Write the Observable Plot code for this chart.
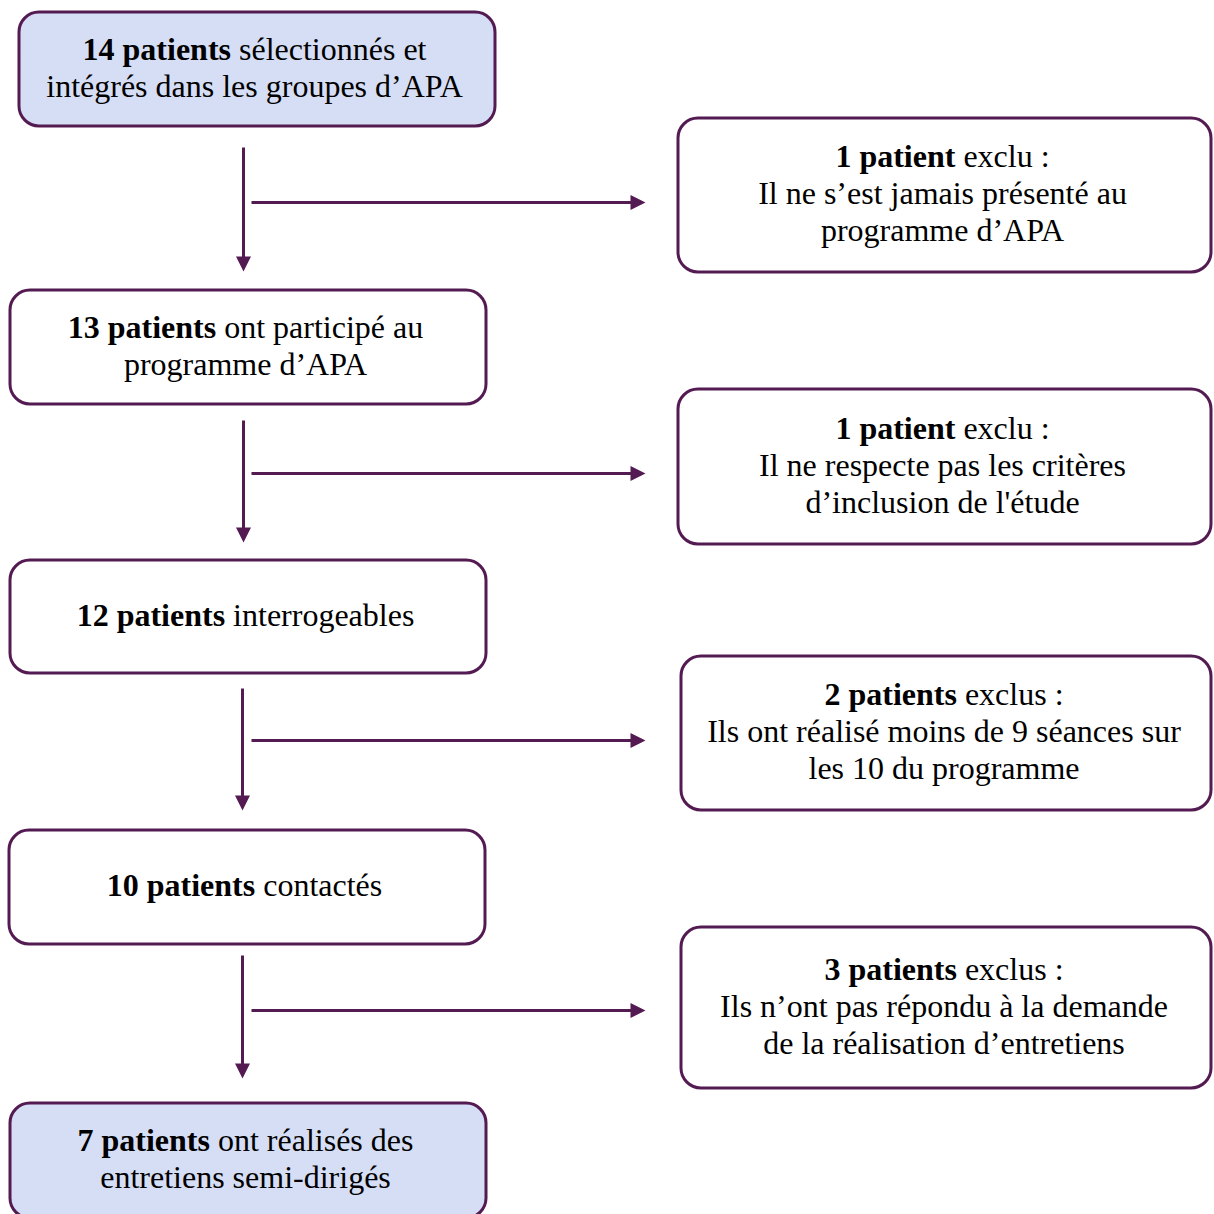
<!DOCTYPE html>
<html>
<head>
<meta charset="utf-8">
<script src="https://cdn.jsdelivr.net/npm/d3@7"></script>
<script src="https://cdn.jsdelivr.net/npm/@observablehq/plot@0.6"></script>
<style>
  html, body { margin: 0; padding: 0; background: #ffffff; }
  #chart svg { display: block; }
</style>
</head>
<body>
<div id="chart"></div>
<script>
// ---------- Data ----------
const mainBold = ["14 patients", "13 patients", "12 patients", "10 patients", "7 patients"];
const mainRest = ["sélectionnés et", "ont participé au", "interrogeables", "contactés", "ont réalisés des"];
const mainMore = [
  ["intégrés dans les groupes d’APA"],
  ["programme d’APA"],
  [],
  [],
  ["entretiens semi-dirigés"]
];
const mainHighlight = [true, false, false, false, true];

const exclBold = ["1 patient", "1 patient", "2 patients", "3 patients"];
const exclRest = ["exclu :", "exclu :", "exclus :", "exclus :"];
const exclMore = [
  ["Il ne s’est jamais présenté au", "programme d’APA"],
  ["Il ne respecte pas les critères", "d’inclusion de l'étude"],
  ["Ils ont réalisé moins de 9 séances sur", "les 10 du programme"],
  ["Ils n’ont pas répondu à la demande", "de la réalisation d’entretiens"]
];

// ---------- Layout (pixel space of the diagram) ----------
const SIZE = 1214;
const mainBoxes = [[19, 495, 12, 126], [10, 486, 290, 404], [10, 486, 560, 673], [9, 485, 830, 944], [10, 486, 1103, 1218]];
const exclBoxes = [[678, 1211, 118, 272], [678, 1211, 389, 544], [681, 1211, 656, 810], [681, 1211, 927, 1088]];
const downArrows = [[243, 147, 271], [243, 420, 542], [242, 688, 810], [242, 955, 1078]];
const rightArrows = [[202, 251, 645], [473, 251, 645], [740, 251, 645], [1010, 251, 645]];

const PURPLE = "#541a52";
const BLUE = "#d6def5";
const FONT = "Liberation Serif, Times New Roman, serif";
const FS = 32;
const LH = 37;
const HEAD = 15;

// ---------- Build tables ----------
const boxes = [
  ...mainBoxes.map((b, i) => ({x1: b[0], x2: b[1], y1: b[2], y2: b[3], fill: mainHighlight[i] ? BLUE : "#ffffff"})),
  ...exclBoxes.map(b => ({x1: b[0], x2: b[1], y1: b[2], y2: b[3], fill: "#ffffff"}))
];

const canvas = document.createElement("canvas");
const ctx = canvas.getContext("2d");
function measure(text, weight) {
  ctx.font = `${weight} ${FS}px "Liberation Serif"`;
  return ctx.measureText(text).width;
}

const boldRows = [], restRows = [], centerRows = [];
function addBox(b, bold, rest, more, dx) {
  const cx = (b[0] + b[1]) / 2 + dx;
  const cy = (b[2] + b[3]) / 2;
  const n = 1 + more.length;
  const baseline = i => cy + 8.5 + (i - (n - 1) / 2) * LH;
  const bw = measure(bold, "bold");
  const sw = measure(" ", "normal");
  const rw = measure(rest, "normal");
  const start = cx - (bw + sw + rw) / 2;
  boldRows.push({x: start, y: baseline(0) - 0.32 * FS, text: bold});
  restRows.push({x: start + bw + sw, y: baseline(0) - 0.32 * FS, text: rest});
  more.forEach((t, j) => centerRows.push({x: cx, y: baseline(j + 1) - 0.32 * FS, text: t}));
}
mainBoxes.forEach((b, i) => addBox(b, mainBold[i], mainRest[i], mainMore[i], -3));
exclBoxes.forEach((b, i) => addBox(b, exclBold[i], exclRest[i], exclMore[i], -2.5));

const links = [
  ...downArrows.map(a => ({x1: a[0], y1: a[1], x2: a[0], y2: a[2] - HEAD + 1})),
  ...rightArrows.map(a => ({x1: a[1], y1: a[0], x2: a[2] - HEAD + 1, y2: a[0]}))
];
const downHeads = downArrows.map(a => ({x: a[0], y: a[2]}));
const rightHeads = rightArrows.map(a => ({x: a[2], y: a[0]}));

// custom filled arrowhead symbols (tip at the origin)
const headDown = {draw(c, size) { const s = Math.sqrt(size / Math.PI); c.moveTo(0, 0); c.lineTo(-s / 2, -s); c.lineTo(s / 2, -s); c.closePath(); }};
const headRight = {draw(c, size) { const s = Math.sqrt(size / Math.PI); c.moveTo(0, 0); c.lineTo(-s, -s / 2); c.lineTo(-s, s / 2); c.closePath(); }};

const chart = Plot.plot({
  width: SIZE,
  height: SIZE,
  margin: 0,
  style: {background: "#ffffff", fontFamily: FONT},
  x: {domain: [0, SIZE], range: [0, SIZE], axis: null},
  y: {domain: [0, SIZE], range: [0, SIZE], axis: null},
  marks: [
    Plot.rect(boxes, {x1: "x1", x2: "x2", y1: "y1", y2: "y2", fill: "fill", stroke: PURPLE, strokeWidth: 3, rx: 20}),
    Plot.link(links, {x1: "x1", y1: "y1", x2: "x2", y2: "y2", stroke: PURPLE, strokeWidth: 3}),
    Plot.dot(downHeads, {x: "x", y: "y", r: HEAD, symbol: headDown, fill: PURPLE, stroke: "none"}),
    Plot.dot(rightHeads, {x: "x", y: "y", r: HEAD, symbol: headRight, fill: PURPLE, stroke: "none"}),
    Plot.text(boldRows, {x: "x", y: "y", text: "text", textAnchor: "start", fontWeight: "bold", fontSize: FS, fontFamily: FONT, fill: "#000000"}),
    Plot.text(restRows, {x: "x", y: "y", text: "text", textAnchor: "start", fontSize: FS, fontFamily: FONT, fill: "#000000"}),
    Plot.text(centerRows, {x: "x", y: "y", text: "text", textAnchor: "middle", fontSize: FS, fontFamily: FONT, fill: "#000000"})
  ]
});
document.getElementById("chart").appendChild(chart);
</script>
</body>
</html>
